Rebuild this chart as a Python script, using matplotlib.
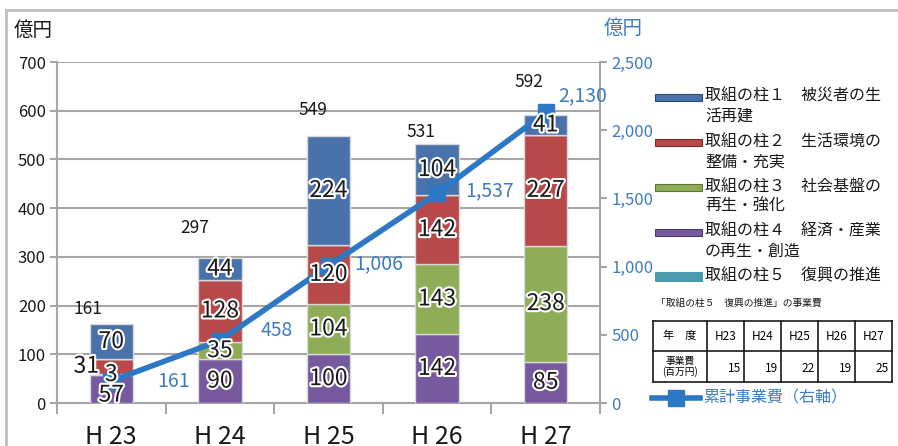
import matplotlib
matplotlib.use("Agg")
import matplotlib.pyplot as plt
import matplotlib.patheffects as pe
from matplotlib.patches import Rectangle
from matplotlib.lines import Line2D
import numpy as np

plt.rcParams['font.family'] = ['Noto Sans CJK JP', 'DejaVu Sans']

# ---------------- data ----------------
years = ["H23", "H24", "H25", "H26", "H27"]
pillar1 = [70, 44, 224, 104, 41]      # 取組の柱1 被災者の生活再建
pillar2 = [31, 128, 120, 142, 227]    # 取組の柱2 生活環境の整備・充実
pillar3 = [3, 35, 104, 143, 238]      # 取組の柱3 社会基盤の再生・強化
pillar4 = [57, 90, 100, 142, 85]      # 取組の柱4 経済・産業の再生・創造
pillar5 = [0.15, 0.19, 0.22, 0.19, 0.25]  # 取組の柱5 復興の推進 (億円)
totals = [161, 297, 549, 531, 592]
cumulative = [161, 458, 1006, 1537, 2130]
pillar5_table = [15, 19, 22, 19, 25]  # 百万円

legend_labels = ["取組の柱１　被災者の生\n活再建",
                 "取組の柱２　生活環境の\n整備・充実",
                 "取組の柱３　社会基盤の\n再生・強化",
                 "取組の柱４　経済・産業\nの再生・創造",
                 "取組の柱５　復興の推進"]
line_label = "累計事業費（右軸）"
table_title = "「取組の柱５　復興の推進」の事業費"
left_ticks = [0, 100, 200, 300, 400, 500, 600, 700]
right_ticks = [0, 500, 1000, 1500, 2000, 2500]

# ---------------- style ----------------
W, H = 898, 446
fig = plt.figure(figsize=(W / 100, H / 100), dpi=100)
ax = fig.add_axes([57 / W, 1 - 403 / H, (600 - 57) / W, (403 - 62) / H])
ax2 = ax.twinx()

c_blue = "#4A72AA"
c_red = "#B8494A"
c_green = "#8EAD56"
c_purple = "#76599E"
c_teal = "#4A9BB0"
edge = {"blue": "#2E4A73", "red": "#7A2C2C", "green": "#5E7536", "purple": "#4C3A6A"}
line_col = "#2C78C4"
axis_blue = "#3D7CC0"
grid_col = "#A6A6A6"

x = np.arange(len(years))
bw = 0.40
series = [(pillar4, c_purple),
          (pillar3, c_green),
          (pillar2, c_red),
          (pillar5, c_teal),
          (pillar1, c_blue)]
# stack order: 4 (bottom), 3, 2, 5, 1 (top)
bottom = np.zeros(len(years))
seg_info = []
for vals, col in series:
    v = np.array(vals, dtype=float)
    ax.bar(x, v, bw, bottom=bottom, color=col, edgecolor="#D8D8D8", linewidth=1.0, zorder=3)
    seg_info.append((v, bottom.copy()))
    bottom = bottom + v

stroke = [pe.withStroke(linewidth=3, foreground="white")]

def seg_label(i, val, y, dx=0.0, dy_px=0):
    # drawn on the twin axes (above the line) but positioned in left-axis data units
    ax2.annotate(str(val), (x[i] + dx, y), xycoords=ax.transData,
                 xytext=(0, dy_px), textcoords="offset pixels",
                 ha="center", va="center", fontsize=16.5, color="#1a1a1a",
                 path_effects=stroke, zorder=8, annotation_clip=False)

for k, vals in [(0, pillar4), (1, pillar3), (2, pillar2), (4, pillar1)]:
    v, b = seg_info[k]
    for i in range(len(years)):
        dx = 0.0
        dy = 0
        if i == 0 and k == 2:
            dx = -0.23
        if i == 0 and k == 0:
            dy = -6
        seg_label(i, vals[i], b[i] + v[i] / 2, dx, dy)

# totals above bars
tot_off = [(-23, 15), (-25, 30), (-16, 26), (-16, 12), (-17, 33)]
for i, t in enumerate(totals):
    ax.annotate(str(t), (x[i], bottom[i]), xytext=tot_off[i], textcoords="offset pixels",
                ha="center", va="center", fontsize=12.5, color="#1a1a1a", zorder=6)

ax.set_xlim(-0.5, len(years) - 0.5)
ax.set_ylim(0, 700)
ax.set_yticks(left_ticks)
ax.yaxis.grid(True, color=grid_col, linewidth=1.5, zorder=0)
ax.set_axisbelow(True)
ax.set_xticks(x)
ax.set_xticklabels([y[0] + " " + y[1:] for y in years])
ax.tick_params(axis="x", length=0, pad=15, labelsize=18, colors="#1a1a1a")
ax.set_xticks(np.arange(len(years) + 1) - 0.5, minor=True)
ax.tick_params(axis="x", which="minor", length=8, width=1.5, color=grid_col, direction="out")
ax.tick_params(axis="y", length=5, width=1.5, color=grid_col, labelsize=12, labelcolor="#1a1a1a", pad=3)
for s in ["top", "right"]:
    ax.spines[s].set_visible(False)
ax.spines["left"].set_color(grid_col)
ax.spines["left"].set_linewidth(1.5)
ax.spines["bottom"].set_color(grid_col)
ax.spines["bottom"].set_linewidth(1.5)

# cumulative line
ax2.plot(x, cumulative, color=line_col, linewidth=4, marker="s", markersize=11,
         markerfacecolor=line_col, markeredgecolor=line_col, zorder=5, clip_on=False)
ax2.set_ylim(0, 2500)
ax2.set_yticks(right_ticks)
ax2.set_yticklabels([f"{t:,}" for t in right_ticks])
ax2.tick_params(axis="y", length=5, width=1.5, color=grid_col, labelsize=12, labelcolor=axis_blue, pad=3)
for s in ["top", "left", "bottom"]:
    ax2.spines[s].set_visible(False)
ax2.spines["right"].set_color(grid_col)
ax2.spines["right"].set_linewidth(1.5)
ax2.set_zorder(ax.get_zorder() + 1)
ax2.patch.set_visible(False)

cum_off = [(46, 0), (41, 10), (26, 2), (28, 3), (13, 17)]
for i, c in enumerate(cumulative):
    ax2.annotate(f"{c:,}", (x[i], c), xytext=cum_off[i], textcoords="offset pixels",
                 ha="left", va="center", fontsize=14, color=axis_blue, zorder=7,
                 annotation_clip=False)

# ---------------- overlay: units, legend, table, border ----------------
ov = fig.add_axes([0, 0, 1, 1], zorder=10)
ov.set_xlim(0, W)
ov.set_ylim(H, 0)
ov.axis("off")
ov.patch.set_visible(False)

ov.plot([6, 6], [10, H], color="#BFBFBF", lw=2)
ov.plot([6, W], [10, 10], color="#BFBFBF", lw=2)

ov.text(14, 30, "億円", fontsize=14, color="#1a1a1a", ha="left", va="center")
ov.text(604, 28, "億円", fontsize=14, color=axis_blue, ha="left", va="center")

leg_cols = [c_blue, c_red, c_green, c_purple, c_teal]
leg_edges = [edge["blue"], edge["red"], edge["green"], edge["purple"], c_teal]
leg_y = [97, 142, 187, 232, 276]
for lab, col, ec, yy in zip(legend_labels, leg_cols, leg_edges, leg_y):
    h = 7 if col != c_teal else 9
    ov.add_patch(Rectangle((655, yy - h / 2), 47, h, facecolor=col, edgecolor=ec, lw=0.8))
    ov.text(705, yy - 9, lab, fontsize=11.5, color="#1a1a1a", ha="left", va="top",
            linespacing=1.25)

ov.text(656, 303, table_title, fontsize=7, color="#1a1a1a", ha="left", va="center")
xs = [653, 707, 744, 781, 818, 855, 892]
ys = [321, 351, 382]
for xx in xs:
    ov.plot([xx, xx], [ys[0], ys[-1]], color="#1a1a1a", lw=1.2)
for yy in ys:
    ov.plot([xs[0], xs[-1]], [yy, yy], color="#1a1a1a", lw=1.2)
ov.text((xs[0] + xs[1]) / 2, (ys[0] + ys[1]) / 2, "年　度", fontsize=8, ha="center", va="center")
ov.text((xs[0] + xs[1]) / 2, (ys[1] + ys[2]) / 2, "事業費\n(百万円)", fontsize=7,
        ha="center", va="center", linespacing=1.1)
for j, (yr, v) in enumerate(zip(years, pillar5_table)):
    ov.text((xs[j + 1] + xs[j + 2]) / 2, (ys[0] + ys[1]) / 2, yr, fontsize=8.5,
            ha="center", va="center")
    ov.text(xs[j + 2] - 3, (ys[1] + ys[2]) / 2 + 2, str(v), fontsize=8.5,
            ha="right", va="center")

ov.add_line(Line2D([652, 700], [398, 398], color=line_col, lw=4))
ov.add_line(Line2D([676], [398], marker="s", markersize=12, color=line_col))
ov.text(703, 398, line_label, fontsize=11.5, color=axis_blue, ha="left", va="center")

fig.savefig("out.png", dpi=100)
